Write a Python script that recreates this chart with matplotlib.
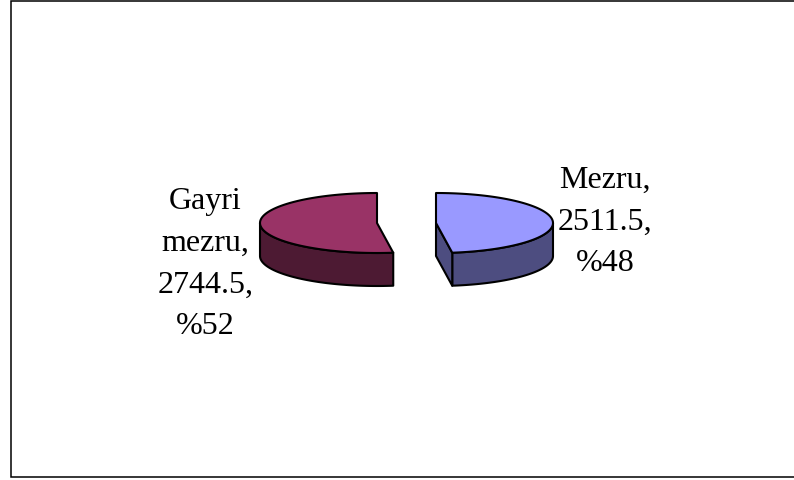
import numpy as np
import matplotlib
matplotlib.use("Agg")
import matplotlib.pyplot as plt
from matplotlib.patches import Polygon

categories = ["Mezru", "Gayri\nmezru"]
values = [2511.5, 2744.5]
percent_labels = ["%48", "%52"]
top_colors = ["#9999FF", "#993366"]
side_colors = ["#4D4D80", "#4D1A33"]

fig = plt.figure(figsize=(7.94, 4.8), dpi=100)
ax = fig.add_axes([0, 0, 1, 1])
ax.set_xlim(0, 794)
ax.set_ylim(480, 0)
ax.axis("off")
plt.rcParams["font.family"] = "Liberation Serif"

# frame
ax.plot([794, 11, 11, 794], [0.5, 0.5, 477, 477], color="black", lw=1.1, solid_joinstyle="miter")

cx, cy = 406.5, 223
rx, ry = 117, 30
depth = 33
explode = 29.5
lw = 1.5
total = sum(values)
sweep = [v / total * 360 for v in values]


def pt(c, deg):
    t = np.deg2rad(deg)
    return np.column_stack((c + rx * np.cos(t), cy - ry * np.sin(t)))


def poly(points, color, z):
    ax.add_patch(Polygon(points, closed=True, facecolor=color, edgecolor="black",
                         lw=lw, joinstyle="round", zorder=z))


# right slice: clockwise from 12 o'clock
c0 = cx + explode
end0 = 90 - sweep[0]
ang = np.linspace(90, end0, 120)
front = np.linspace(0, end0, 60)
fp = pt(c0, front)
poly(np.vstack((fp, fp[::-1] + [0, depth])), side_colors[0], 2)
e = pt(c0, np.array([end0]))
poly(np.vstack(([[c0, cy]], e, e + [0, depth], [[c0, cy + depth]])), side_colors[0], 2)
poly(np.vstack(([[c0, cy]], pt(c0, ang))), top_colors[0], 3)

# left slice: continues clockwise to 12 o'clock
c1 = cx - explode
ang = np.linspace(end0, end0 - sweep[1], 120)
front = np.linspace(end0, -180, 60)
fp = pt(c1, front)
poly(np.vstack((fp, fp[::-1] + [0, depth])), side_colors[1], 2)
poly(np.vstack(([[c1, cy]], pt(c1, ang))), top_colors[1], 3)

fs = 23
ax.text(605, 222, f"{categories[0]},\n{values[0]},\n{percent_labels[0]}", ha="center", va="center",
        fontsize=fs, linespacing=1.59, family="Liberation Serif", color="black", zorder=5)
ax.text(205.5, 264, f"{categories[1]},\n{values[1]},\n{percent_labels[1]}", ha="center", va="center",
        fontsize=fs, linespacing=1.59, family="Liberation Serif", color="black", zorder=5)

fig.savefig("out.png", dpi=100)
